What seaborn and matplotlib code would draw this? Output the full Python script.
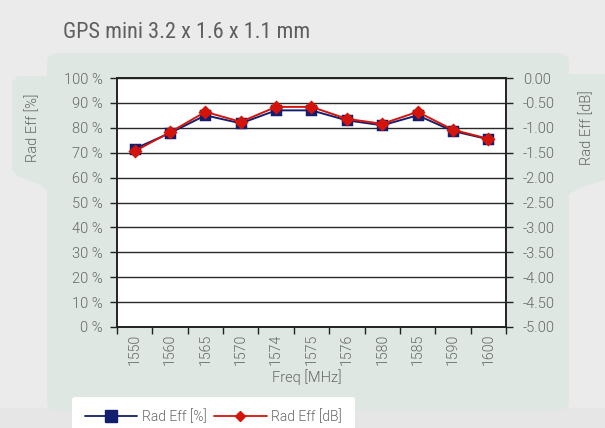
import matplotlib
matplotlib.use("Agg")
import matplotlib.pyplot as plt
import seaborn as sns
import numpy as np
from matplotlib.patches import FancyBboxPatch, Polygon, Rectangle
from matplotlib.lines import Line2D
from matplotlib import font_manager as fm

freqs = ["1550", "1560", "1565", "1570", "1574", "1575", "1576", "1580", "1585", "1590", "1600"]
rad_eff_pct = [71.6, 77.9, 85.0, 81.8, 87.0, 87.0, 83.0, 81.0, 85.0, 78.7, 75.4]
rad_eff_db = [-1.47, -1.09, -0.68, -0.88, -0.58, -0.58, -0.82, -0.92, -0.68, -1.04, -1.22]
pct_ticks = list(range(0, 101, 10))
db_ticks = [0.0, -0.5, -1.0, -1.5, -2.0, -2.5, -3.0, -3.5, -4.0, -4.5, -5.0]

sns.set_theme(style="white")
names = {f.name for f in fm.fontManager.ttflist}
title_font = "DejaVu Sans"
for cand in ["Roboto Condensed", "Liberation Sans Narrow", "Archivo Narrow", "Roboto"]:
    if cand in names:
        title_font = cand
        break
plt.rcParams['font.family'] = ['Roboto', 'DejaVu Sans']
plt.rcParams['font.weight'] = 300

W, H = 605, 428
fig = plt.figure(figsize=(6.05, 4.28), dpi=100)
fig.patch.set_facecolor("#ebebeb")

def fx(x):
    return x / W

def fy(y):
    return 1 - y / H

panel = "#dfe7e2"
fig.patches.append(Rectangle((0, 0), 1, fy(408), transform=fig.transFigure, color="#e6e6e6", zorder=0))
fig.patches.append(FancyBboxPatch((fx(47), fy(411)), fx(569) - fx(47), fy(53) - fy(411),
                                  boxstyle="round,pad=0,rounding_size=0.02", transform=fig.transFigure,
                                  facecolor=panel, edgecolor="none", zorder=1))
lt = [(12, 82), (18, 76), (48, 76), (48, 192), (42, 186), (18, 176), (12, 170)]
fig.patches.append(Polygon([(fx(a), fy(b)) for a, b in lt], closed=True, transform=fig.transFigure,
                           facecolor=panel, edgecolor="none", zorder=1))
rt = [(566, 74), (605, 74), (605, 180), (580, 188), (566, 196)]
fig.patches.append(Polygon([(fx(a), fy(b)) for a, b in rt], closed=True, transform=fig.transFigure,
                           facecolor=panel, edgecolor="none", zorder=1))

ax = fig.add_axes([fx(117), fy(327), fx(506) - fx(117), fy(78) - fy(327)])
ax.set_facecolor("white")
ax.set_zorder(2)

blue = "#141e6e"
red = "#d4140a"

sns.pointplot(x=freqs, y=rad_eff_pct, ax=ax, color=blue, marker="s", markersize=6.5,
              linewidth=1.4, label="Rad Eff [%]", errorbar=None)
ax2 = ax.twinx()
sns.pointplot(x=freqs, y=rad_eff_db, ax=ax2, color=red, marker="D", markersize=6,
              linewidth=1.4, label="Rad Eff [dB]", errorbar=None)

n = len(freqs)
ax.set_xlim(-0.5, n - 0.5)
ax.set_ylim(0, 100)
ax2.set_ylim(-5, 0)

ax.set_yticks(pct_ticks)
ax.set_yticklabels([f"{v} %" for v in pct_ticks])
ax2.set_yticks(db_ticks)
ax2.set_yticklabels([f"{v:.2f}" for v in db_ticks])

for v in pct_ticks:
    ax.axhline(v, color="#2a2a2a", lw=1.0, zorder=0.5)

tick_col = "#666666"
ax.tick_params(axis="y", direction="out", length=5, width=1, color="#222222", labelcolor=tick_col,
               labelsize=10.5, pad=5, left=True)
ax2.tick_params(axis="y", direction="out", length=5, width=1, color="#222222", labelcolor=tick_col,
                labelsize=10.5, pad=7, right=True)
ax.set_xticks(range(n))
ax.set_xticklabels(freqs, rotation=90)
ax.tick_params(axis="x", which="major", length=0, labelcolor=tick_col, labelsize=10.2, pad=5)
ax.set_xticks(np.arange(-0.5, n, 1.0), minor=True)
ax.tick_params(axis="x", which="minor", direction="out", length=5, width=1, color="#222222", bottom=True)
ax2.tick_params(axis="x", length=0)

for a in (ax, ax2):
    for s in a.spines.values():
        s.set_color("#222222")
        s.set_linewidth(1.2)
ax.set_xlabel("")
ax.set_ylabel("")
ax2.set_ylabel("")
if ax.get_legend():
    ax.get_legend().remove()
if ax2.get_legend():
    ax2.get_legend().remove()

fig.text(fx(307), fy(377), "Freq [MHz]", ha="center", va="center", color=tick_col, fontsize=10.5)
fig.text(fx(33), fy(128), "Rad Eff [%]", ha="center", va="center", rotation=90, color=tick_col, fontsize=10.5)
fig.text(fx(587), fy(128), "Rad Eff [dB]", ha="center", va="center", rotation=90, color=tick_col, fontsize=10.5)
fig.text(fx(63), fy(33), "GPS mini 3.2 x 1.6 x 1.1 mm", ha="left", va="center", color="#5e5e5e",
         fontsize=16, family=title_font, fontweight="normal")

handles = [Line2D([], [], color=blue, marker="s", markersize=8, lw=1.3),
           Line2D([], [], color=red, marker="D", markersize=5.5, lw=1.3)]
leg = fig.legend(handles, ["Rad Eff [%]", "Rad Eff [dB]"], loc="upper left",
                 bbox_to_anchor=(fx(72), fy(397)), ncol=2, frameon=True, fancybox=True,
                 handlelength=3.8, handletextpad=0.35, columnspacing=0.5, borderaxespad=0,
                 borderpad=0.9, fontsize=10)
leg.get_frame().set_facecolor("white")
leg.get_frame().set_edgecolor("none")
leg.get_frame().set_alpha(1)
for t in leg.get_texts():
    t.set_color(tick_col)

fig.savefig("out.png", dpi=100, facecolor=fig.get_facecolor())
